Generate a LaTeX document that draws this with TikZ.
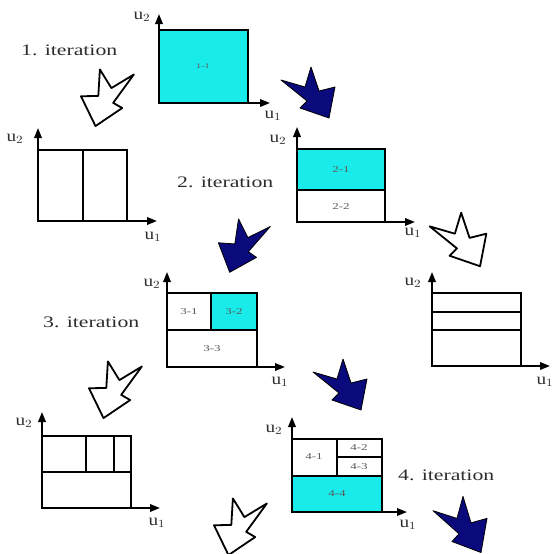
\documentclass[tikz,border=0pt]{standalone}
\usepackage{fontspec}
\setmainfont{Liberation Serif}
\usetikzlibrary{arrows.meta}
\definecolor{boxcyan}{RGB}{25,235,235}
\definecolor{starblue}{RGB}{10,10,125}
\definecolor{txt}{RGB}{45,45,45}
\newcommand{\hs}[2][1.45]{\scalebox{#1}[1]{#2}}
\tikzset{
  ax/.style={line width=1.8pt,-{Triangle[length=10pt,width=7.5pt]}},
  bx/.style={line width=1.9pt, draw=black},
  ulab/.style={font=\fontsize{16}{16}\selectfont, text=txt, inner sep=0pt},
  clab/.style={font=\fontsize{9}{9}\selectfont, text=black!65, inner sep=0pt},
  itlab/.style={font=\fontsize{16}{16}\selectfont, text=txt, inner sep=0pt, anchor=base west},
  jag/.pic={\path[pic actions] (-27,-13) -- (-3,-6) -- (3,-26) -- (11,-2) -- (27,-6) -- (21,25) -- (-8,15) -- (-1,8) -- cycle;},
  bluejag/.style={draw=black, fill=starblue, line width=0.8pt, line join=round},
  whitejag/.style={draw=black, fill=white, line width=1.8pt, line join=round},
}
\begin{document}
\begin{tikzpicture}[x=1pt,y=-1pt]
\useasboundingbox (0,0) rectangle (554,554);

% ---------- panel 1
\fill[boxcyan] (159,30) rectangle (248,103);
\draw[bx] (159,30) rectangle (248,103);
\coordinate (o1) at (159,103); \coordinate (y1) at (159,14); \coordinate (x1) at (270,103);
\draw[ax] (o1) -- (y1); \draw[ax] (o1) -- (x1);
\node[clab, font=\fontsize{7}{7}\selectfont] (c11) at (203,66) {\hs{1-1}};
\node[ulab] (u2a) at (142,17) {\hs[1.2]{u$_2$}};
\node[ulab] (u1a) at (273,116) {\hs[1.2]{u$_1$}};

% ---------- panel 2 left
\draw[bx] (38,150) rectangle (127,221);
\draw[bx] (83,150) -- (83,221);
\coordinate (o2) at (38,221); \coordinate (y2) at (38,128); \coordinate (x2) at (157,221);
\draw[ax] (o2) -- (y2); \draw[ax] (o2) -- (x2);
\node[ulab] (u2b) at (15,139) {\hs[1.2]{u$_2$}};
\node[ulab] (u1b) at (153,237) {\hs[1.2]{u$_1$}};

% ---------- panel 2 right
\fill[boxcyan] (297,149) rectangle (385,190);
\draw[bx] (297,149) rectangle (385,222);
\draw[bx] (297,190) -- (385,190);
\coordinate (o3) at (297,222); \coordinate (y3) at (297,127); \coordinate (x3) at (415,222);
\draw[ax] (o3) -- (y3); \draw[ax] (o3) -- (x3);
\node[clab] (c21) at (341,170) {\hs{2-1}};
\node[clab] (c22) at (341,207) {\hs{2-2}};
\node[ulab] (u2c) at (278,140) {\hs[1.2]{u$_2$}};
\node[ulab] (u1c) at (413,233) {\hs[1.2]{u$_1$}};

% ---------- panel 3 left
\fill[boxcyan] (211,293) rectangle (257,330);
\draw[bx] (167,293) rectangle (257,367);
\draw[bx] (167,330) -- (257,330);
\draw[bx] (211,293) -- (211,330);
\coordinate (o4) at (167,367); \coordinate (y4) at (167,272); \coordinate (x4) at (285,367);
\draw[ax] (o4) -- (y4); \draw[ax] (o4) -- (x4);
\node[clab] (c31) at (189,312) {\hs{3-1}};
\node[clab] (c32) at (234,312) {\hs{3-2}};
\node[clab] (c33) at (212,349) {\hs{3-3}};
\node[ulab] (u2d) at (152,284) {\hs[1.2]{u$_2$}};
\node[ulab] (u1d) at (280,382) {\hs[1.2]{u$_1$}};

% ---------- panel 3 right
\draw[bx] (432,293) rectangle (521,366);
\draw[bx] (432,312) -- (521,312);
\draw[bx] (432,330) -- (521,330);
\coordinate (o5) at (432,366); \coordinate (y5) at (432,272); \coordinate (x5) at (550,366);
\draw[ax] (o5) -- (y5); \draw[ax] (o5) -- (x5);
\node[ulab] (u2e) at (413,283) {\hs[1.2]{u$_2$}};
\node[ulab] (u1e) at (545,382) {\hs[1.2]{u$_1$}};

% ---------- panel 4 left
\draw[bx] (42,436) rectangle (131,508);
\draw[bx] (42,472) -- (131,472);
\draw[bx] (86,436) -- (86,472);
\draw[bx] (114,436) -- (114,472);
\coordinate (o6) at (42,508); \coordinate (y6) at (42,412); \coordinate (x6) at (160,508);
\draw[ax] (o6) -- (y6); \draw[ax] (o6) -- (x6);
\node[ulab] (u2f) at (24,423) {\hs[1.2]{u$_2$}};
\node[ulab] (u1f) at (157,523) {\hs[1.2]{u$_1$}};

% ---------- panel 4 right
\fill[boxcyan] (292,476) rectangle (382,512);
\draw[bx] (292,439) rectangle (382,512);
\draw[bx] (292,476) -- (382,476);
\draw[bx] (337,439) -- (337,476);
\draw[bx] (337,457) -- (382,457);
\coordinate (o7) at (292,512); \coordinate (y7) at (292,417); \coordinate (x7) at (407,512);
\draw[ax] (o7) -- (y7); \draw[ax] (o7) -- (x7);
\node[clab] (c41) at (314,457) {\hs{4-1}};
\node[clab] (c42) at (359,448) {\hs{4-2}};
\node[clab] (c43) at (359,467) {\hs{4-3}};
\node[clab] (c44) at (337,494) {\hs{4-4}};
\node[ulab] (u2g) at (274,430) {\hs[1.2]{u$_2$}};
\node[ulab] (u1g) at (408,525) {\hs[1.2]{u$_1$}};

% ---------- iteration labels
\node[itlab] (it1) at (21,55) {\hs[1.36]{1. iteration}};
\node[itlab] (it2) at (177,187) {\hs[1.36]{2. iteration}};
\node[itlab] (it3) at (43,327) {\hs[1.36]{3. iteration}};
\node[itlab] (it4) at (398,480) {\hs[1.36]{4. iteration}};

% ---------- jagged arrows
\pic[whitejag, rotate=15, xscale=-1.05, yscale=1.05] at (110,95) {jag};
\pic[bluejag] at (308,93) {jag};
\pic[bluejag, rotate=10, xscale=-1] at (246,244) {jag};
\pic[whitejag, scale=1.05] at (458,240) {jag};
\pic[bluejag] at (340,385) {jag};
\pic[whitejag, rotate=15, xscale=-1.05, yscale=1.05] at (118,387) {jag};
\pic[whitejag, rotate=15, xscale=-1.05, yscale=1.05] at (243,524) {jag};
\pic[bluejag, yscale=1.1] at (460,525) {jag};
\end{tikzpicture}
\end{document}
